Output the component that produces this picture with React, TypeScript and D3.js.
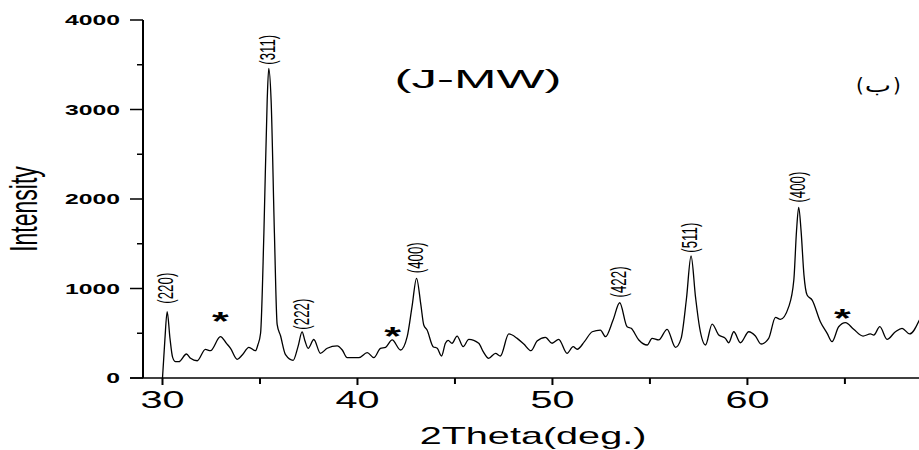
import * as d3 from 'd3';

// XRD pattern
const twoTheta = [
  30.0, 30.12, 30.24, 30.38, 30.52, 30.67, 30.84, 31.23, 31.44, 31.78, 32.2, 32.46, 32.97, 33.28, 33.49,
  33.83, 34.09, 34.43, 34.77, 34.89, 35.03, 35.2, 35.37, 35.45, 35.57, 35.74, 35.88, 36.05, 36.31, 36.7,
  36.95, 37.16, 37.3, 37.47, 37.76, 38.1, 38.45, 38.96, 39.22, 39.47, 40.07, 40.5, 40.84, 41.18, 41.44,
  41.78, 42.21, 42.55, 42.8, 43.03, 43.25, 43.4, 43.57, 43.88, 44.09, 44.31, 44.51, 44.65, 44.85, 45.11,
  45.42, 45.71, 46.22, 46.45, 46.73, 47.08, 47.33, 47.76, 48.19, 48.53, 48.9, 49.21, 49.64, 49.98, 50.32,
  50.75, 51.06, 51.27, 51.64, 52.04, 52.46, 52.72, 53.11, 53.45, 53.83, 54.04, 54.43, 54.86, 55.11, 55.45,
  55.88, 56.31, 56.6, 56.87, 57.11, 57.34, 57.55, 57.85, 58.19, 58.53, 58.87, 59.04, 59.3, 59.64, 60.07,
  60.41, 60.7, 61.09, 61.44, 61.69, 62.12, 62.38, 62.52, 62.63, 62.75, 62.9, 63.06, 63.32, 63.74, 64.09,
  64.34, 64.68, 65.03, 65.45, 65.93, 66.31, 66.48, 66.79, 67.16, 67.59, 67.93, 68.32, 68.82,
];
const intensity = [
  0, 420, 741, 450, 230, 182, 182, 268, 220, 193, 320, 305, 462, 387, 332,
  209, 257, 343, 305, 369, 500, 1617, 3106, 3460, 3106, 1617, 600, 475, 260, 197,
  350, 515, 420, 332, 430, 276, 332, 358, 313, 227, 227, 283, 227, 332, 343,
  425, 313, 462, 800, 1114, 820, 592, 536, 350, 332, 246, 388, 420, 388, 469,
  350, 432, 388, 294, 220, 276, 246, 492, 443, 380, 305, 413, 455, 388, 432,
  276, 350, 321, 406, 517, 536, 462, 648, 841, 573, 555, 425, 369, 443, 425,
  544, 343, 443, 880, 1363, 900, 560, 369, 603, 480, 443, 394, 517, 394, 517,
  469, 380, 443, 678, 655, 797, 1095, 1650, 1907, 1650, 1150, 927, 871, 629, 499,
  406, 573, 618, 544, 469, 492, 480, 573, 432, 517, 555, 492, 648,
];

const peakLabels = ['(220)', '(311)', '(222)', '(400)', '(422)', '(511)', '(400)'];
const peakPos = [30.24, 35.45, 37.2, 43.03, 53.45, 57.11, 62.63];
const peakBase = [830, 3500, 540, 1170, 900, 1400, 1960];

const starPos = [32.97, 41.8, 64.87];
const starLevel = [704, 536, 737];

const yTicks = [0, 1000, 2000, 3000, 4000];
const yMinor = [500, 1500, 2500, 3500];
const xTicks = [30, 40, 50, 60];
const xMinor = [35, 45, 55, 65];

const W = 919;
const H = 450;
const SX = 1.65; // the figure is stretched sideways

export default function App() {
  const x = d3.scaleLinear().domain([29, 68.8]).range([143, 919]);
  const y = d3.scaleLinear().domain([0, 4000]).range([378, 20]);

  const pts = twoTheta.map((t, i) => [t, intensity[i]] as [number, number]);
  const line = d3.line<[number, number]>()
    .x(d => x(d[0]))
    .y(d => y(d[1]))
    .curve(d3.curveMonotoneX);

  const font = '"Liberation Sans", Arial, sans-serif';

  return (
    <svg width={W} height={H} style={{ position: 'absolute', left: 0, top: 0, background: '#fff' }}
      fontFamily={font}>
      <rect width={W} height={H} fill="#fff" />

      {/* axes */}
      <line x1={143} x2={143} y1={y(4000)} y2={y(0)} stroke="#000" strokeWidth={2} />
      <line x1={130} x2={919} y1={y(0)} y2={y(0)} stroke="#000" strokeWidth={1.5} />
      {yTicks.map(v => (
        <g key={'yt' + v}>
          <line x1={130} x2={143} y1={y(v)} y2={y(v)} stroke="#000" strokeWidth={1.5} />
          <text transform={`translate(120,${y(v) + 5}) scale(${SX},1)`} textAnchor="end"
            fontSize={15} fontWeight="bold">{v}</text>
        </g>
      ))}
      {yMinor.map(v => (
        <line key={'ym' + v} x1={137} x2={143} y1={y(v)} y2={y(v)} stroke="#000" strokeWidth={1.5} />
      ))}
      {xTicks.map(v => (
        <g key={'xt' + v}>
          <line x1={x(v)} x2={x(v)} y1={y(0)} y2={y(0) + 7} stroke="#000" strokeWidth={2} />
          <text transform={`translate(${x(v)},408) scale(${SX},1)`} textAnchor="middle"
            fontSize={24}>{v}</text>
        </g>
      ))}
      {xMinor.map(v => (
        <line key={'xm' + v} x1={x(v)} x2={x(v)} y1={y(0)} y2={y(0) + 6} stroke="#000" strokeWidth={2} />
      ))}

      {/* axis titles */}
      <text transform={`translate(533,444) scale(${SX},1)`} textAnchor="middle" fontSize={24}>
        2Theta(deg.)
      </text>
      <text transform={`translate(37,209) scale(${SX},1) rotate(-90)`} textAnchor="middle" fontSize={23}>
        Intensity
      </text>

      {/* pattern */}
      <path d={line(pts) || ''} fill="none" stroke="#000" strokeWidth={1.3} />

      {/* peak labels */}
      {peakLabels.map((s, i) => (
        <text key={'pl' + i}
          transform={`translate(${x(peakPos[i]) + 6},${y(peakBase[i])}) scale(${SX},1) rotate(-90)`}
          fontSize={13.3}>{s}</text>
      ))}
      {starPos.map((p, i) => (
        <text key={'st' + i} transform={`translate(${x(p)},${y(starLevel[i]) + 15}) scale(${SX},1)`}
          textAnchor="middle" fontSize={26} fontWeight="bold">*</text>
      ))}

      {/* titles */}
      <text x={478} y={88} textAnchor="middle" fontSize={26} textLength={167} lengthAdjust="spacingAndGlyphs">
        (J-MW)
      </text>
      <g fontFamily='"DejaVu Sans", sans-serif' fontSize={20} textAnchor="middle">
        <text x={860} y={92}>(</text>
        <text transform={`translate(878,92) scale(1.4,1)`}>ب</text>
        <text x={897} y={92}>)</text>
      </g>
    </svg>
  );
}
